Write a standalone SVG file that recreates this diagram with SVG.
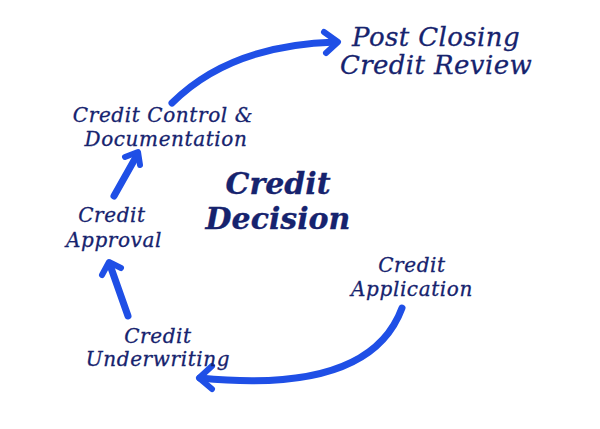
<svg xmlns="http://www.w3.org/2000/svg" width="600" height="429" viewBox="0 0 600 429">
<style>
.t{font-family:"DejaVu Serif","Liberation Serif",serif;font-style:italic;fill:#16236e;text-anchor:middle;stroke:#16236e;stroke-width:0.3}
.s{font-size:20px;letter-spacing:0.6px}
.b{font-size:26px;letter-spacing:0.4px}
.c{font-size:30px;font-weight:bold}
.a{fill:none;stroke:#1f4fe6;stroke-width:7;stroke-linecap:round}
.h{fill:none;stroke:#1f4fe6;stroke-width:6;stroke-linecap:round;stroke-linejoin:round}
</style>
<rect width="600" height="429" fill="#fff"/>
<g id="connectors">
<path class="a" d="M172,103 Q230,45 336,42"/>
<path class="h" d="M324,32 L338,42 L326,53"/>
<path class="a" d="M114,196 L136,157"/>
<path class="h" d="M125,157 L138,152 L140,165"/>
<path class="a" d="M128,316 L110,265"/>
<path class="h" d="M102,275 L109,262 L121,268"/>
<path class="a" d="M402,308 Q370,395 200,378"/>
<path class="h" d="M212,366 L199,378 L212,389"/>
</g>
<g id="post-closing"><text class="t b" x="436" y="46">Post Closing</text><text class="t b" x="436" y="74">Credit Review</text></g>
<g id="credit-control"><text class="t s" x="163" y="122">Credit Control &amp;</text><text class="t s" x="166" y="146">Documentation</text></g>
<g id="credit-decision"><text class="t c" x="278" y="194">Credit</text><text class="t c" x="278" y="229">Decision</text></g>
<g id="credit-approval"><text class="t s" x="112" y="222">Credit</text><text class="t s" x="114" y="247">Approval</text></g>
<g id="credit-application"><text class="t s" x="412" y="272">Credit</text><text class="t s" x="412" y="296">Application</text></g>
<g id="credit-underwriting"><text class="t s" x="158" y="343">Credit</text><text class="t s" x="158" y="366">Underwriting</text></g>
</svg>
